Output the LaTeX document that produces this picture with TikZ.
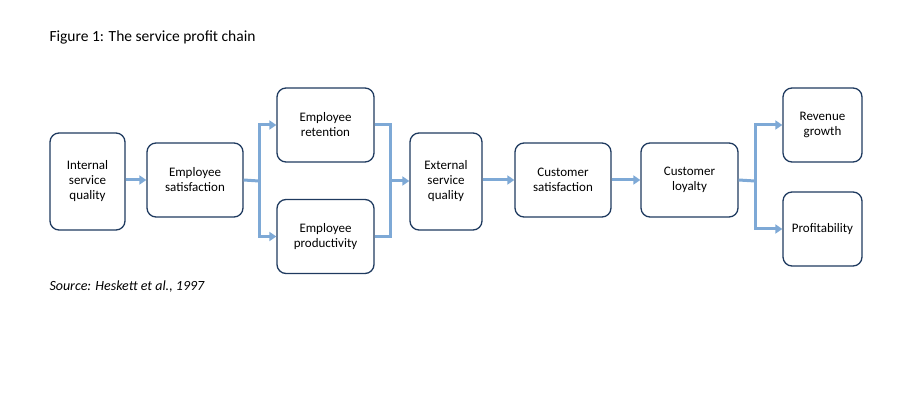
\documentclass[tikz,border=0pt]{standalone}
\usepackage{fontspec}
\setmainfont{Carlito}
\usetikzlibrary{arrows.meta}
\definecolor{bx}{HTML}{1F3A5F}
\definecolor{ar}{HTML}{7EA9D6}
\begin{document}
\begin{tikzpicture}[x=1pt,y=-1pt,
  box/.style={draw=bx,line width=1.3pt,rounded corners=9pt,align=center,inner sep=0pt,font=\fontsize{13}{15}\selectfont},
  arr/.style={draw=ar,line width=3pt,-{Triangle[length=7pt,width=9pt]}},
  ln/.style={draw=ar,line width=3pt}]
\useasboundingbox (0,0) rectangle (923,403);
\node[anchor=west,font=\fontsize{15.5}{18}\selectfont] (title) at (46,37) {Figure 1: The service profit chain};
\node[anchor=west,font=\fontsize{14}{17}\selectfont\itshape] (src) at (46,287) {Source: Heskett et al., 1997};
\node[box,minimum width=75pt,minimum height=97pt] (isq) at (87.5,181.5) {Internal\\service\\quality};
\node[box,minimum width=96pt,minimum height=74pt] (es) at (195,180) {Employee\\satisfaction};
\node[box,minimum width=97pt,minimum height=74pt] (er) at (325.5,125) {Employee\\retention};
\node[box,minimum width=97pt,minimum height=74pt] (ep) at (325.5,236.5) {Employee\\productivity};
\node[box,minimum width=72pt,minimum height=97pt] (esq) at (446,181.5) {External\\service\\quality};
\node[box,minimum width=96pt,minimum height=74pt] (cs) at (563,180) {Customer\\satisfaction};
\node[box,minimum width=97pt,minimum height=74pt] (cl) at (689.5,180) {Customer\\loyalty};
\node[box,minimum width=79pt,minimum height=74pt] (rg) at (822.5,125) {Revenue\\growth};
\node[box,minimum width=79pt,minimum height=74pt] (pr) at (822.5,229) {Profitability};
\coordinate (s1) at (259,181);
\coordinate (s2) at (390,181);
\coordinate (s3) at (755,181);
\draw[arr] (isq.east |- es) -- (es.west);
\draw[ln] (es.east) -- (s1);
\draw[arr] (s1) |- (er.west);
\draw[arr] (s1) |- (ep.west);
\draw[ln] (er.east) -| (s2);
\draw[ln] (ep.east) -| (s2);
\draw[arr] (s2) -- (esq.west |- s2);
\draw[arr] (esq.east |- cs) -- (cs.west);
\draw[arr] (cs.east) -- (cl.west);
\draw[ln] (cl.east) -- (s3);
\draw[arr] (s3) |- (rg.west);
\draw[arr] (s3) |- (pr.west);
\end{tikzpicture}
\end{document}
